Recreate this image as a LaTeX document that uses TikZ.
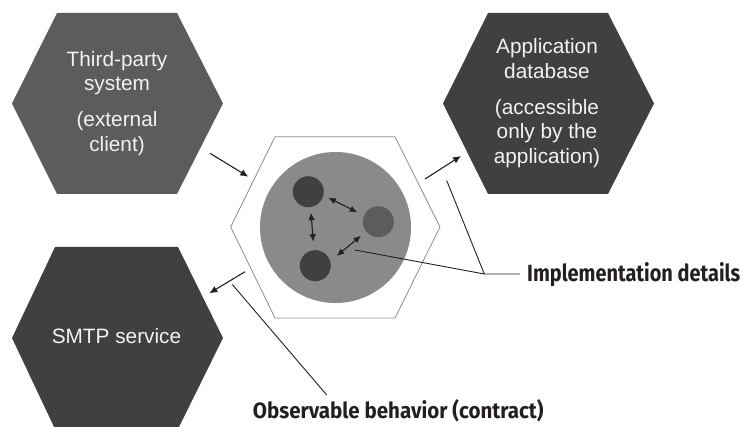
\documentclass[tikz,border=0pt]{standalone}
\usepackage{graphicx}
\usepackage{fontspec}
\setmainfont{Liberation Sans}
\newfontfamily\calloutfont{Fira Sans}
\usetikzlibrary{arrows.meta}
\definecolor{hexmid}{HTML}{5A5C5E}
\definecolor{hexdark}{HTML}{3F4042}
\definecolor{rim}{HTML}{8F8F8F}
\definecolor{core}{HTML}{898A8C}
\definecolor{ink}{HTML}{231F20}
\definecolor{hextext}{HTML}{F2F2F2}
\begin{document}
\begin{tikzpicture}[x=1pt,y=-1pt,
  hextxt/.style={text=hextext,font=\fontsize{20.8}{24.5}\selectfont,align=center,inner sep=0pt},
  conn/.style={draw=ink,line width=1.1pt,-{Latex[length=8pt,width=7pt]}},
  biconn/.style={draw=ink,line width=1.1pt,{Latex[length=7.5pt,width=6.5pt]}-{Latex[length=7.5pt,width=6.5pt]}},
  leader/.style={draw=ink,line width=0.9pt},
  callout/.style={inner sep=0pt,anchor=base west,text=ink},
  blob/.style={circle,inner sep=0pt,minimum size=#1}]
\useasboundingbox (0,0) rectangle (743,427);
\clip (0,0) rectangle (743,427);
% outer hexagons
\fill[hexmid] (57,13) -- (177,13) -- (223,103.5) -- (177,194) -- (57,194) -- (12,103.5) -- cycle;
\fill[hexdark] (488,13) -- (608,13) -- (654,103.5) -- (608,194) -- (488,194) -- (443,103.5) -- cycle;
\fill[hexdark] (55,247) -- (178,247) -- (223,338) -- (178,429) -- (55,429) -- (12,338) -- cycle;
% central hexagon
\draw[rim,line width=0.8pt,fill=white] (275,136.7) -- (395,136.7) -- (440,227) -- (395,318) -- (275,318) -- (230.7,227) -- cycle;
% core and components
\node[blob=151pt,fill=core] (core) at (335.5,227.5) {};
\node[blob=31pt,fill=hexdark] (ca) at (308.3,191.7) {};
\node[blob=31pt,fill=hexmid] (cb) at (378.3,221.7) {};
\node[blob=31pt,fill=hexdark] (cc) at (315.3,265.7) {};
% texts
\node[hextxt,anchor=north] (tp) at (117,51) {Third-party\\system\\[11.5pt](external\\client)};
\node[hextxt,anchor=north] (db) at (547,38.5) {Application\\database\\[11.5pt](accessible\\only by the\\application)};
\node[hextxt,anchor=base] (smtp) at (116.5,343.3) {SMTP service};
\node[callout] (impl) at (527,281.5) {\resizebox{213pt}{19pt}{\calloutfont\bfseries Implementation details}};
\node[callout] (obs) at (252.7,418.7) {\resizebox{290.6pt}{19pt}{\calloutfont\bfseries Observable behavior (contract)}};
% arrow end points
\coordinate (inS) at (210,153.3);
\coordinate (inE) at (248.3,176.7);
\coordinate (dbS) at (425,179);
\coordinate (dbE) at (461,156);
\coordinate (smS) at (245,271.7);
\coordinate (smE) at (209.3,293.3);
\coordinate (abS) at (328.3,197.7);
\coordinate (abE) at (357.3,212.3);
\coordinate (acS) at (311,212.7);
\coordinate (acE) at (313.3,241.7);
\coordinate (bcS) at (361,235.7);
\coordinate (bcE) at (336.7,256);
\coordinate (j) at (484.3,274);
\coordinate (implA) at (446.7,180.5);
\coordinate (implB) at (355,250);
\coordinate (implC) at (520,274);
\coordinate (obsA) at (232.3,284.5);
\coordinate (obsB) at (326.7,395);
% arrows
\draw[conn] (inS) -- (inE);
\draw[conn] (dbS) -- (dbE);
\draw[conn] (smS) -- (smE);
\draw[biconn] (abS) -- (abE);
\draw[biconn] (acS) -- (acE);
\draw[biconn] (bcS) -- (bcE);
% leaders
\draw[leader] (implA) -- (j) -- (implC);
\draw[leader] (implB) -- (j);
\draw[leader] (obsA) -- (obsB);
\end{tikzpicture}
\end{document}
